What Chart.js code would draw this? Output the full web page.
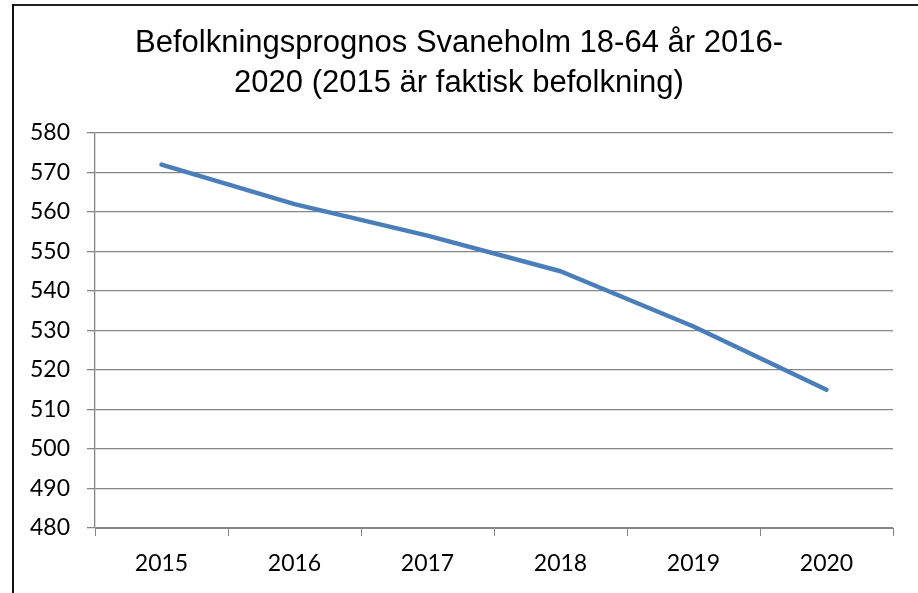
<!DOCTYPE html>
<html>
<head>
<meta charset="utf-8">
<script src="https://cdn.jsdelivr.net/npm/chart.js@4"></script>
<style>
    body { margin: 0; background: #fff; }
    #wrap { position: relative; width: 918px; height: 593px; }
    #frameTop { position: absolute; left: 12px; top: 4px; width: 906px; height: 2px; background: #222; }
    #frameLeft { position: absolute; left: 12px; top: 4px; width: 2px; height: 589px; background: #111; }
</style>
</head>
<body>
<div id="wrap">
    <canvas id="prognosChart" width="918" height="593"></canvas>
    <div id="frameTop"></div>
    <div id="frameLeft"></div>
</div>
<script>
// Befolkningsprognos data
const years = ['2015', '2016', '2017', '2018', '2019', '2020'];
const population = [572, 562, 554, 545, 531, 515];
const titleLines = ['Befolkningsprognos Svaneholm 18-64 år 2016-', '2020 (2015 är faktisk befolkning)'];
const yMin = 480;
const yMax = 580;
const yStep = 10;

document.addEventListener('DOMContentLoaded', function() {
    const ctx = document.getElementById('prognosChart');
    const gridColor = '#868686';
    const tickFont = { family: 'Lato', size: 23 };

    new Chart(ctx, {
        type: 'line',
        data: {
            labels: years,
            datasets: [{
                label: 'Befolkning 18-64 år',
                data: population,
                borderColor: '#4a7ebb',
                borderWidth: 4.5,
                borderCapStyle: 'round',
                borderJoinStyle: 'round',
                pointRadius: 0,
                tension: 0,
                fill: false
            }]
        },
        options: {
            responsive: false,
            animation: false,
            layout: {
                padding: { left: 25, right: 25, top: 0, bottom: 0 }
            },
            plugins: {
                legend: { display: false },
                tooltip: { enabled: false },
                title: {
                    display: true,
                    text: titleLines,
                    color: '#000',
                    font: { family: 'Liberation Sans', size: 31, weight: 'normal', lineHeight: 1.29 },
                    padding: { top: 23, bottom: 30 }
                }
            },
            scales: {
                x: {
                    offset: true,
                    grid: {
                        offset: true,
                        drawOnChartArea: false,
                        drawTicks: true,
                        tickLength: 8,
                        color: gridColor
                    },
                    border: { color: gridColor },
                    ticks: {
                        color: '#000',
                        font: tickFont,
                        padding: 14,
                        maxRotation: 0
                    },
                    afterFit: function(scale) { scale.height = 65; }
                },
                y: {
                    min: yMin,
                    max: yMax,
                    grid: {
                        color: gridColor,
                        lineWidth: 1.3,
                        tickLength: 8
                    },
                    border: { color: gridColor, width: 1.3 },
                    ticks: {
                        stepSize: yStep,
                        color: '#000',
                        font: tickFont,
                        padding: 17
                    },
                    afterFit: function(scale) { scale.width = 70; }
                }
            }
        }
    });
});
</script>
</body>
</html>
